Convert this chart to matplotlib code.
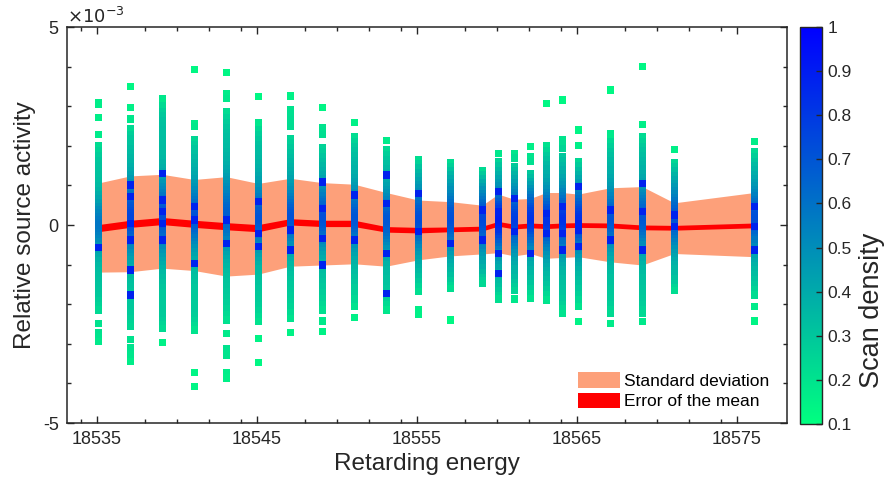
import numpy as np
import matplotlib
matplotlib.use("Agg")
import matplotlib.pyplot as plt
from matplotlib.patches import Patch
from matplotlib.colors import Normalize

plt.rcParams['font.family'] = ['Liberation Sans', 'DejaVu Sans']
plt.rcParams['axes.unicode_minus'] = False

# ---------------- data (activity in units of 1e-3) ----------------
energies = [18535.1, 18537.1, 18539.1, 18541.1, 18543.1, 18545.1, 18547.1, 18549.1,
            18551.1, 18553.1, 18555.1, 18557.1, 18559.1, 18560.1, 18561.1, 18562.1,
            18563.1, 18564.1, 18565.1, 18567.1, 18569.1, 18571.1, 18576.1]
mean_vals = [-0.08, 0.03, 0.10, 0.03, -0.03, -0.08, 0.08, 0.04, 0.04, -0.11, -0.13, -0.11,
             -0.09, 0.03, -0.04, -0.01, -0.03, -0.01, 0.00, -0.01, -0.06, -0.07, -0.01]
std_upper = [1.06, 1.24, 1.28, 1.15, 1.22, 1.05, 1.18, 1.07, 1.03, 0.82, 0.63, 0.59,
             0.50, 0.78, 0.65, 0.67, 0.82, 0.82, 0.78, 0.94, 0.97, 0.56, 0.82]
std_lower = [-1.19, -1.18, -1.09, -1.15, -1.29, -1.24, -1.04, -1.01, -0.98, -1.04, -0.88, -0.78,
             -0.73, -0.70, -0.78, -0.72, -0.84, -0.82, -0.80, -0.93, -1.01, -0.72, -0.80]
sem_vals = [0.09, 0.09, 0.09, 0.09, 0.09, 0.09, 0.08, 0.08, 0.08, 0.07, 0.07, 0.06,
            0.06, 0.06, 0.06, 0.06, 0.06, 0.06, 0.06, 0.06, 0.06, 0.06, 0.06]

act_18535 = [3.09, 3.05, 2.71, 2.29, 2.00, 1.88, 1.75, 1.62, 1.50, 1.38, 1.26, 1.12, 0.99, 0.87, 0.76, 0.66, 0.57, 0.47, 0.38, 0.30, 0.22, 0.14, 0.07, 0.01, -0.06, -0.12, -0.19, -0.27, -0.35, -0.43, -0.52, -0.60, -0.70, -0.80, -0.91, -1.03, -1.15, -1.28, -1.40, -1.53, -1.66, -1.78, -1.92, -2.04, -2.15, -2.48, -2.72, -2.82, -2.95]
act_18537 = [3.50, 2.97, 2.68, 2.44, 2.28, 2.17, 2.06, 1.94, 1.82, 1.70, 1.59, 1.48, 1.38, 1.27, 1.17, 1.08, 0.99, 0.91, 0.84, 0.77, 0.70, 0.63, 0.56, 0.49, 0.43, 0.36, 0.30, 0.24, 0.18, 0.12, 0.06, 0.01, -0.05, -0.11, -0.17, -0.24, -0.31, -0.38, -0.45, -0.53, -0.61, -0.70, -0.79, -0.88, -0.98, -1.08, -1.19, -1.31, -1.43, -1.56, -1.69, -1.82, -1.95, -2.09, -2.22, -2.36, -2.48, -2.57, -2.89, -3.10, -3.27, -3.45]
act_18539 = [3.19, 3.01, 2.87, 2.76, 2.64, 2.52, 2.40, 2.28, 2.16, 2.04, 1.92, 1.80, 1.68, 1.57, 1.46, 1.35, 1.25, 1.15, 1.06, 0.97, 0.89, 0.81, 0.73, 0.66, 0.59, 0.52, 0.45, 0.38, 0.32, 0.26, 0.20, 0.14, 0.08, 0.02, -0.04, -0.10, -0.16, -0.23, -0.30, -0.37, -0.45, -0.53, -0.61, -0.70, -0.79, -0.89, -0.99, -1.10, -1.21, -1.33, -1.46, -1.59, -1.72, -1.86, -2.00, -2.14, -2.28, -2.42, -2.52, -2.61, -2.97]
act_18541 = [3.92, 2.57, 2.49, 2.15, 2.03, 1.92, 1.80, 1.69, 1.58, 1.47, 1.36, 1.26, 1.16, 1.06, 0.97, 0.88, 0.80, 0.72, 0.64, 0.57, 0.50, 0.43, 0.36, 0.30, 0.24, 0.18, 0.12, 0.06, 0.00, -0.06, -0.12, -0.19, -0.26, -0.33, -0.41, -0.49, -0.58, -0.67, -0.77, -0.87, -0.98, -1.09, -1.21, -1.33, -1.46, -1.59, -1.73, -1.87, -2.01, -2.15, -2.29, -2.42, -2.55, -2.65, -3.73, -4.08]
act_18543 = [3.85, 3.31, 3.19, 2.87, 2.70, 2.58, 2.46, 2.34, 2.22, 2.10, 1.98, 1.86, 1.75, 1.64, 1.53, 1.43, 1.33, 1.23, 1.14, 1.05, 0.96, 0.88, 0.80, 0.72, 0.64, 0.57, 0.50, 0.43, 0.36, 0.30, 0.23, 0.17, 0.10, 0.04, -0.02, -0.09, -0.16, -0.23, -0.30, -0.38, -0.46, -0.55, -0.64, -0.74, -0.84, -0.95, -1.06, -1.18, -1.30, -1.43, -1.56, -1.69, -1.83, -1.97, -2.11, -2.26, -2.40, -2.74, -3.12, -3.20, -3.28, -3.73, -3.86]
act_18545 = [3.24, 2.59, 2.40, 2.28, 2.16, 2.04, 1.92, 1.80, 1.68, 1.57, 1.46, 1.35, 1.25, 1.15, 1.05, 0.96, 0.87, 0.79, 0.71, 0.63, 0.56, 0.49, 0.42, 0.35, 0.29, 0.22, 0.16, 0.10, 0.04, -0.02, -0.08, -0.14, -0.21, -0.28, -0.35, -0.43, -0.51, -0.60, -0.69, -0.79, -0.89, -1.00, -1.11, -1.23, -1.35, -1.48, -1.61, -1.75, -1.89, -2.03, -2.17, -2.31, -2.44, -2.86, -3.48]
act_18547 = [3.26, 2.92, 2.80, 2.65, 2.49, 2.19, 2.07, 1.95, 1.83, 1.71, 1.59, 1.48, 1.37, 1.27, 1.17, 1.07, 0.98, 0.89, 0.80, 0.72, 0.64, 0.57, 0.50, 0.43, 0.36, 0.30, 0.24, 0.18, 0.12, 0.06, 0.00, -0.06, -0.12, -0.19, -0.26, -0.34, -0.42, -0.50, -0.59, -0.69, -0.79, -0.90, -1.01, -1.13, -1.25, -1.38, -1.51, -1.65, -1.79, -1.93, -2.07, -2.22, -2.36, -2.72]
act_18549 = [2.97, 2.47, 2.38, 2.28, 1.96, 1.84, 1.72, 1.60, 1.49, 1.38, 1.27, 1.17, 1.07, 0.98, 0.89, 0.81, 0.73, 0.65, 0.58, 0.51, 0.44, 0.37, 0.31, 0.25, 0.19, 0.13, 0.07, 0.01, -0.05, -0.11, -0.17, -0.24, -0.31, -0.39, -0.47, -0.56, -0.65, -0.75, -0.85, -0.96, -1.07, -1.19, -1.31, -1.44, -1.57, -1.71, -1.85, -2.00, -2.15, -2.42, -2.69]
act_18551 = [2.59, 2.23, 2.11, 1.99, 1.87, 1.75, 1.63, 1.52, 1.41, 1.30, 1.20, 1.10, 1.00, 0.91, 0.82, 0.74, 0.66, 0.58, 0.51, 0.44, 0.37, 0.30, 0.24, 0.18, 0.12, 0.06, 0.00, -0.06, -0.12, -0.19, -0.26, -0.33, -0.41, -0.49, -0.58, -0.67, -0.77, -0.87, -0.98, -1.09, -1.21, -1.33, -1.46, -1.59, -1.73, -1.87, -2.05, -2.33]
act_18553 = [2.13, 1.90, 1.78, 1.66, 1.54, 1.42, 1.31, 1.20, 1.10, 1.00, 0.90, 0.81, 0.72, 0.64, 0.56, 0.48, 0.41, 0.34, 0.27, 0.21, 0.15, 0.09, 0.03, -0.03, -0.09, -0.15, -0.22, -0.29, -0.36, -0.44, -0.52, -0.61, -0.70, -0.80, -0.90, -1.01, -1.12, -1.24, -1.36, -1.49, -1.62, -1.75, -1.88, -2.02, -2.15]
act_18555 = [1.66, 1.55, 1.44, 1.33, 1.23, 1.13, 1.03, 0.94, 0.85, 0.77, 0.69, 0.61, 0.54, 0.47, 0.40, 0.33, 0.27, 0.21, 0.15, 0.09, 0.03, -0.03, -0.09, -0.15, -0.21, -0.28, -0.35, -0.42, -0.50, -0.58, -0.67, -0.76, -0.86, -0.96, -1.07, -1.18, -1.30, -1.42, -1.55, -1.68, -2.15, -2.25]
act_18557 = [1.58, 1.48, 1.37, 1.26, 1.16, 1.06, 0.97, 0.88, 0.79, 0.71, 0.63, 0.56, 0.49, 0.42, 0.35, 0.29, 0.23, 0.17, 0.11, 0.05, -0.01, -0.07, -0.13, -0.19, -0.26, -0.33, -0.40, -0.48, -0.56, -0.65, -0.74, -0.84, -0.94, -1.05, -1.16, -1.28, -1.40, -1.52, -1.60, -2.40]
act_18559 = [1.38, 1.27, 1.17, 1.07, 0.98, 0.89, 0.80, 0.72, 0.64, 0.57, 0.50, 0.43, 0.37, 0.31, 0.25, 0.19, 0.13, 0.07, 0.01, -0.05, -0.11, -0.17, -0.23, -0.30, -0.37, -0.44, -0.52, -0.60, -0.69, -0.78, -0.88, -0.98, -1.09, -1.20, -1.32, -1.40, -1.47]
act_18560 = [1.80, 1.60, 1.49, 1.38, 1.28, 1.18, 1.08, 0.99, 0.90, 0.82, 0.74, 0.66, 0.59, 0.52, 0.46, 0.40, 0.34, 0.28, 0.23, 0.18, 0.13, 0.08, 0.03, -0.02, -0.07, -0.12, -0.17, -0.23, -0.29, -0.35, -0.41, -0.48, -0.55, -0.63, -0.71, -0.80, -0.89, -0.99, -1.09, -1.20, -1.31, -1.43, -1.55, -1.67, -1.78, -1.87]
act_18561 = [1.80, 1.69, 1.48, 1.37, 1.27, 1.17, 1.07, 0.98, 0.89, 0.81, 0.73, 0.65, 0.58, 0.51, 0.44, 0.38, 0.32, 0.26, 0.20, 0.14, 0.08, 0.03, -0.02, -0.07, -0.13, -0.19, -0.25, -0.32, -0.39, -0.46, -0.54, -0.62, -0.71, -0.80, -0.90, -1.00, -1.11, -1.22, -1.34, -1.46, -1.57, -1.66, -1.87]
act_18562 = [1.98, 1.72, 1.60, 1.30, 1.20, 1.10, 1.01, 0.92, 0.84, 0.76, 0.68, 0.61, 0.54, 0.47, 0.41, 0.35, 0.29, 0.23, 0.17, 0.12, 0.07, 0.02, -0.03, -0.08, -0.14, -0.20, -0.26, -0.33, -0.40, -0.47, -0.55, -0.63, -0.72, -0.81, -0.91, -1.01, -1.12, -1.23, -1.35, -1.47, -1.60, -1.73, -1.85]
act_18563 = [3.07, 2.00, 1.88, 1.76, 1.64, 1.52, 1.41, 1.30, 1.20, 1.10, 1.00, 0.91, 0.82, 0.74, 0.66, 0.58, 0.51, 0.44, 0.38, 0.32, 0.26, 0.20, 0.14, 0.09, 0.04, -0.01, -0.06, -0.11, -0.17, -0.23, -0.29, -0.36, -0.43, -0.50, -0.58, -0.66, -0.75, -0.84, -0.94, -1.04, -1.15, -1.26, -1.38, -1.50, -1.63, -1.76, -1.89]
act_18564 = [3.16, 2.15, 2.05, 1.94, 1.73, 1.62, 1.51, 1.40, 1.30, 1.20, 1.10, 1.01, 0.92, 0.83, 0.75, 0.67, 0.60, 0.53, 0.46, 0.40, 0.34, 0.28, 0.22, 0.16, 0.11, 0.06, 0.01, -0.04, -0.09, -0.15, -0.21, -0.27, -0.34, -0.41, -0.48, -0.56, -0.64, -0.73, -0.82, -0.92, -1.02, -1.13, -1.24, -1.36, -1.48, -1.61, -1.74, -1.87, -2.00, -2.12, -2.23]
act_18565 = [2.40, 2.00, 1.60, 1.49, 1.38, 1.28, 1.18, 1.08, 0.99, 0.90, 0.82, 0.74, 0.66, 0.59, 0.52, 0.45, 0.39, 0.33, 0.27, 0.21, 0.15, 0.10, 0.05, 0.00, -0.05, -0.10, -0.16, -0.22, -0.28, -0.35, -0.42, -0.49, -0.57, -0.65, -0.74, -0.83, -0.93, -1.03, -1.14, -1.25, -1.37, -1.49, -1.62, -1.75, -1.88, -2.06, -2.44]
act_18567 = [3.41, 2.30, 2.10, 1.98, 1.86, 1.74, 1.62, 1.51, 1.40, 1.29, 1.19, 1.09, 0.99, 0.90, 0.81, 0.73, 0.65, 0.57, 0.50, 0.43, 0.36, 0.29, 0.23, 0.17, 0.11, 0.05, -0.01, -0.07, -0.13, -0.20, -0.27, -0.34, -0.42, -0.50, -0.59, -0.68, -0.78, -0.88, -0.99, -1.10, -1.22, -1.34, -1.47, -1.60, -1.73, -1.87, -2.01, -2.15, -2.23, -2.48]
act_18569 = [4.00, 2.53, 2.23, 2.11, 1.99, 1.87, 1.75, 1.63, 1.52, 1.41, 1.30, 1.20, 1.10, 1.00, 0.91, 0.82, 0.74, 0.66, 0.58, 0.51, 0.44, 0.37, 0.30, 0.24, 0.18, 0.12, 0.06, 0.00, -0.06, -0.12, -0.19, -0.26, -0.34, -0.42, -0.50, -0.59, -0.68, -0.78, -0.88, -0.99, -1.10, -1.22, -1.34, -1.47, -1.60, -1.73, -1.87, -2.01, -2.14, -2.23, -2.44]
act_18571 = [1.90, 1.58, 1.47, 1.36, 1.25, 1.15, 1.05, 0.96, 0.87, 0.78, 0.70, 0.62, 0.55, 0.48, 0.41, 0.34, 0.28, 0.22, 0.16, 0.10, 0.04, -0.02, -0.08, -0.14, -0.21, -0.28, -0.35, -0.43, -0.51, -0.60, -0.69, -0.79, -0.89, -1.00, -1.11, -1.23, -1.35, -1.47, -1.58, -1.66]
act_18576 = [2.11, 1.85, 1.73, 1.61, 1.50, 1.39, 1.28, 1.18, 1.08, 0.99, 0.90, 0.81, 0.73, 0.65, 0.58, 0.51, 0.44, 0.37, 0.31, 0.25, 0.19, 0.13, 0.07, 0.01, -0.05, -0.11, -0.17, -0.24, -0.31, -0.38, -0.46, -0.54, -0.63, -0.72, -0.82, -0.92, -1.03, -1.14, -1.26, -1.38, -1.50, -1.63, -1.77, -2.05, -2.42]

# high-density scans (deep blue squares) read per column
dense_18535 = [-0.56]
dense_18537 = [1.01, 0.72, 0.04, -0.38, -1.14, -1.77]
dense_18539 = [1.30, 0.63, 0.34, 0.04, -0.38]
dense_18541 = [0.46, 0.13, -0.97]
dense_18543 = [0.13, -0.46]
dense_18545 = [0.59, -0.21, -0.55]
dense_18547 = [-0.13, -0.63]
dense_18549 = [1.09, 0.42, -0.34, -1.01]
dense_18551 = [0.76, -0.38]
dense_18553 = [1.26, 0.55, -0.72, -1.73]
dense_18555 = [0.80, -0.17]
dense_18557 = [-0.46]
dense_18559 = [0.38, -0.38]
dense_18560 = [0.84, 0.34, -0.72, -1.22]
dense_18561 = [0.67, -0.17]
dense_18562 = [-0.72]
dense_18563 = [0.29, -0.21]
dense_18564 = [0.46, -0.21, -0.63]
dense_18565 = [0.97, 0.04, -0.13, -0.55]
dense_18567 = [0.38, -0.38]
dense_18569 = [1.05, 0.34, -0.63]
dense_18571 = [0.25, -0.04]
dense_18576 = [0.46, -0.04, -0.63]

columns = [act_18535, act_18537, act_18539, act_18541, act_18543, act_18545, act_18547,
           act_18549, act_18551, act_18553, act_18555, act_18557, act_18559, act_18560,
           act_18561, act_18562, act_18563, act_18564, act_18565, act_18567, act_18569,
           act_18571, act_18576]
dense_columns = [dense_18535, dense_18537, dense_18539, dense_18541, dense_18543, dense_18545,
                 dense_18547, dense_18549, dense_18551, dense_18553, dense_18555, dense_18557,
                 dense_18559, dense_18560, dense_18561, dense_18562, dense_18563, dense_18564,
                 dense_18565, dense_18567, dense_18569, dense_18571, dense_18576]
dense_level = 0.88

x_major = [18535, 18545, 18555, 18565, 18575]
x_minor = [18534, 18538, 18540, 18542, 18544, 18548, 18550, 18552, 18554, 18558, 18560,
           18562, 18564, 18568, 18570, 18572, 18574]
cbar_ticks = [0.1, 0.2, 0.3, 0.4, 0.5, 0.6, 0.7, 0.8, 0.9, 1.0]

# ---------------- scan density (kernel estimate within each column) ----------------
xs, ys, dens = [], [], []
for e, col in zip(energies, columns):
    y = np.asarray(col)
    d = np.exp(-0.5 * ((y[:, None] - y[None, :]) / 0.3) ** 2).sum(axis=1)
    xs.extend([e] * len(y)); ys.extend(y); dens.extend(d)
xs = np.array(xs); ys = np.array(ys); dens = np.array(dens)
dens = 0.12 + 0.78 * (dens / dens.max()) ** 1.7

xd, yd = [], []
for e, col in zip(energies, dense_columns):
    xd.extend([e] * len(col)); yd.extend(col)

# ---------------- figure ----------------
fig = plt.figure(figsize=(8.85, 4.9), dpi=100)
ax = fig.add_axes([67/885, 1 - 423/490, 720/885, 396/490])
dark = '#262626'

ax.fill_between(energies, std_lower, std_upper, color='#FDA07A', lw=0, zorder=1)
ax.fill_between(energies, np.array(mean_vals) - np.array(sem_vals),
                np.array(mean_vals) + np.array(sem_vals), color='#FF0000', lw=0, zorder=2)
norm = Normalize(vmin=0.1, vmax=1.0)
sc = ax.scatter(xs, ys, c=dens, cmap='winter_r', norm=norm,
                marker='s', s=28, linewidths=0, zorder=3)
ax.scatter(xd, yd, c=[dense_level] * len(xd), cmap='winter_r', norm=norm,
           marker='s', s=28, linewidths=0, zorder=4)

ax.set_xlim(18533.15, 18578.15)
ax.set_ylim(-5, 5)
ax.set_xticks(x_major)
ax.set_xticks(x_minor, minor=True)
ax.set_xticklabels([str(v) for v in x_major])
ax.set_yticks([-5, 0, 5])
ax.set_yticks(np.arange(-5, 6, 1), minor=True)
ax.set_yticklabels(['-5', '0', '5'])
ax.tick_params(which='both', direction='in', top=True, right=True, colors=dark,
               labelsize=13, width=1)
ax.tick_params(which='major', length=5, pad=6)
ax.tick_params(which='minor', length=3)
for sp in ax.spines.values():
    sp.set_color(dark); sp.set_linewidth(1.1)

ax.set_xlabel('Retarding energy', fontsize=17.5, color=dark, labelpad=3)
ax.set_ylabel('Relative source activity', fontsize=17.5, color=dark, labelpad=5)
ax.text(0.0, 1.0, r'$\times10^{-3}$', transform=ax.transAxes, fontsize=13,
        color=dark, ha='left', va='bottom')

handles = [Patch(facecolor='#FDA07A', edgecolor='none', label='Standard deviation'),
           Patch(facecolor='#FF0000', edgecolor='none', label='Error of the mean')]
ax.legend(handles=handles, loc='lower right', bbox_to_anchor=(0.978, 0.03), frameon=False,
          fontsize=12.5, handlelength=2.4, handleheight=1.0, handletextpad=0.25,
          labelspacing=0.2, borderpad=0.1, borderaxespad=0.0)

cax = fig.add_axes([800/885, 1 - 424/490, 22/885, 397/490])
cb = fig.colorbar(sc, cax=cax, ticks=cbar_ticks)
cb.ax.set_yticklabels(['0.1', '0.2', '0.3', '0.4', '0.5', '0.6', '0.7', '0.8', '0.9', '1'])
cb.ax.tick_params(direction='in', length=4, colors=dark, labelsize=12.5, width=1, pad=4)
cb.outline.set_edgecolor(dark); cb.outline.set_linewidth(1)
fig.text(872/885, 1 - 310/490, 'Scan density', rotation=90, fontsize=19.5, color=dark,
         ha='center', va='center')

fig.savefig('out.png', dpi=100)
